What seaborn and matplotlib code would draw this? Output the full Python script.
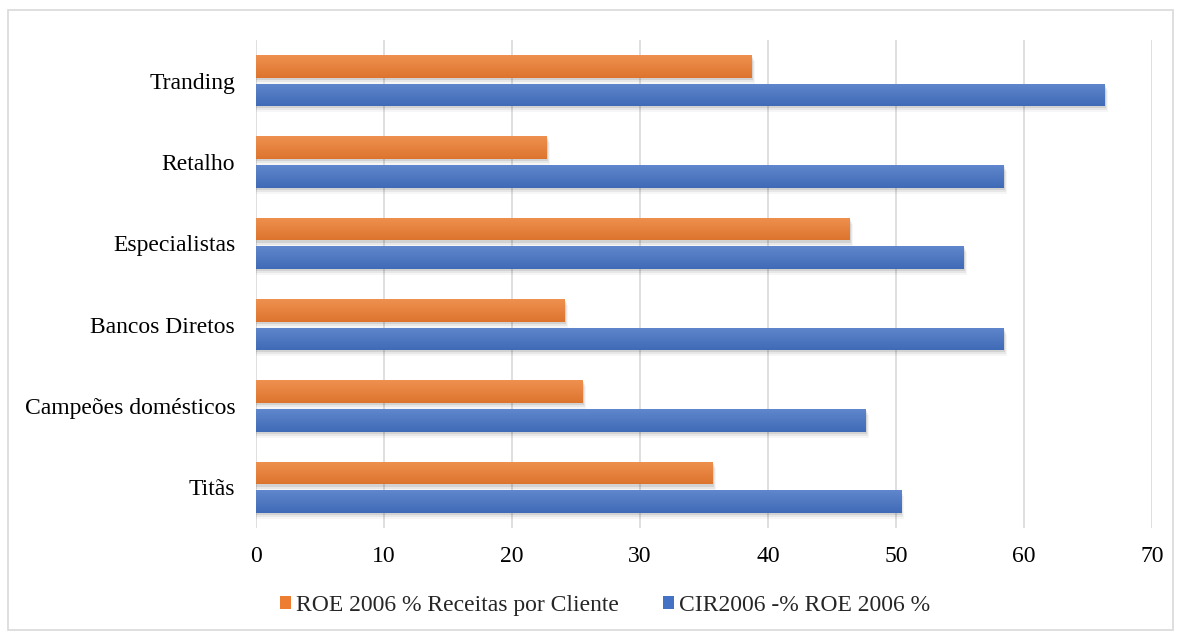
import numpy as np
import pandas as pd
import matplotlib
matplotlib.use("Agg")
import matplotlib.pyplot as plt
import matplotlib.colors as mcolors
from matplotlib.patches import Rectangle
import seaborn as sns

categories = ["Tranding", "Retalho", "Especialistas", "Bancos Diretos",
              "Campeões domésticos", "Titãs"]
roe_receitas = [38.7, 22.7, 46.4, 24.1, 25.5, 35.7]
cir_roe = [66.3, 58.4, 55.3, 58.4, 47.6, 50.4]
series_names = ["ROE 2006 % Receitas por Cliente", "CIR2006 -% ROE 2006 %"]
x_ticks = [0, 10, 20, 30, 40, 50, 60, 70]

orange = "#ED7D31"
blue = "#4472C4"

df = pd.DataFrame({
    "Categoria": categories * 2,
    "Valor": roe_receitas + cir_roe,
    "Série": [series_names[0]] * len(categories) + [series_names[1]] * len(categories),
})

sns.set_theme(style="white")
plt.rcParams["font.family"] = ["Liberation Serif", "DejaVu Serif"]

fig = plt.figure(figsize=(11.82, 6.35), dpi=100)
ax = fig.add_axes([0.2166, 0.1685, 0.7580, 0.7685])

sns.barplot(data=df, y="Categoria", x="Valor", hue="Série", order=categories,
            hue_order=series_names, palette=[orange, blue], saturation=1,
            orient="h", width=0.7, gap=0.2, ax=ax, zorder=3, legend=True,
            linewidth=0)

ax.set_xlim(0, 70)
ax.set_ylim(len(categories) - 0.5, -0.5)
ax.set_xticks(x_ticks)
ax.set_xlabel("")
ax.set_ylabel("")
for s in ax.spines.values():
    s.set_visible(False)
ax.grid(axis="x", color="#d9d9d9", linewidth=1.2, zorder=0)
ax.grid(axis="y", visible=False)
ax.tick_params(axis="y", length=0, pad=15, labelsize=17, colors="black")
ax.tick_params(axis="x", length=0, pad=13, labelsize=17, colors="black")

# gradient fill and soft shadow for each bar
def shade(c, f):
    r = np.array(mcolors.to_rgb(c))
    if f > 0:
        return r + (1 - r) * f
    return r * (1 + f)

for patch in list(ax.patches):
    x0, y0 = patch.get_x(), patch.get_y()
    w, h = patch.get_width(), patch.get_height()
    base = patch.get_facecolor()
    top = shade(base, 0.15)
    bot = shade(base, -0.07)
    t = np.linspace(0, 1, 128)[:, None]
    grad = np.clip(top[None, :] * (1 - t) + bot[None, :] * t, 0, 1)[:, None, :]
    for k, a in enumerate([0.09, 0.06, 0.035]):
        off = 0.10 + 0.08 * k
        sh = Rectangle((x0, y0 + 0.025 * (k + 1)), w + off, h,
                       facecolor="black", alpha=a, edgecolor="none", zorder=2)
        ax.add_patch(sh)
    im = ax.imshow(grad, extent=(x0, x0 + w, y0 + h, y0), aspect="auto",
                   zorder=3.5, interpolation="bilinear")
    im.set_clip_path(patch)
ax.set_xlim(0, 70)
ax.set_ylim(len(categories) - 0.5, -0.5)

handles, labels = ax.get_legend_handles_labels()
ax.legend_.remove()
fig.legend(handles, labels, loc="center", bbox_to_anchor=(0.512, 0.047),
           ncol=2, frameon=False, fontsize=17, handlelength=0.45,
           handleheight=0.45, handletextpad=0.2, columnspacing=1.9)

# light outer frame
fig.patches.append(Rectangle((0.007, 0.008), 0.985, 0.976, transform=fig.transFigure,
                             fill=False, edgecolor="#d9d9d9", linewidth=1.2))

fig.savefig("out.png", dpi=100)
